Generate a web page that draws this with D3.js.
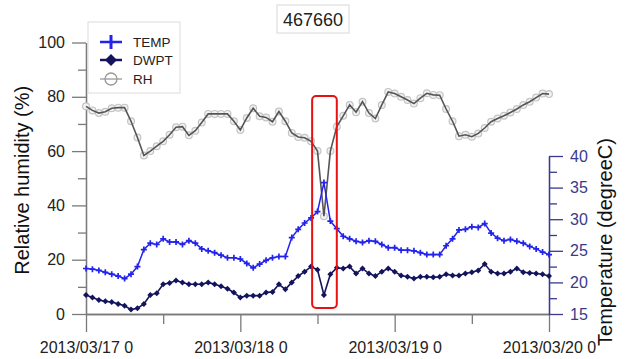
<!DOCTYPE html>
<html>
<head>
<meta charset="utf-8">
<script src="https://cdn.jsdelivr.net/npm/d3@7"></script>
<style>
  html, body { margin: 0; padding: 0; background: #fff; }
  svg { display: block; font-family: "Liberation Sans", Arial, sans-serif; }
</style>
</head>
<body>
<svg id="chart" width="627" height="359"></svg>
<script>
// Station 467660, hourly observations from 2013/03/17 00:00 to 2013/03/20 00:00
const stationId = "467660";
const startTime = new Date(2013, 2, 17, 0, 0, 0);

// Relative humidity (%) per hour
const rhValues = [
  76.5, 75, 74, 74.5, 75.8, 76, 76, 71, 65, 58.4,
  60, 61.8, 63.6, 66, 68.8, 69, 65.8, 67.5, 70.5, 73.7,
  73.7, 73.7, 73.7, 71, 67.8, 72.2, 75.8, 72.8, 72.4, 70.8,
  74.6, 71, 66.7, 65.2, 64.9, 63.6, 60, 36, 60, 69,
  73, 77, 74.3, 78.2, 74, 72, 77, 81.8, 81.2, 80,
  78.8, 77.5, 79.5, 81.3, 80.7, 80.6, 75.5, 71, 65.5, 66,
  65.3, 66.5, 68.5, 70.8, 72, 73, 74.2, 75.5, 77, 78.2,
  79.7, 81.2, 81
];

// Air temperature (degreeC) per hour
const tempValues = [
  22.2, 22.1, 21.9, 21.6, 21.3, 21, 20.6, 21.3, 22.5, 25.2,
  26.2, 26, 26.9, 26.4, 26.4, 26, 26.6, 26.2, 25.3, 25,
  24.7, 24.3, 23.9, 23.9, 23.7, 23, 22.3, 22.9, 23.5, 23.9,
  24.1, 24.1, 27.1, 28.4, 29.4, 30.2, 31.2, 35.8, 29.7, 28.5,
  27.3, 26.9, 26.5, 26.3, 26.6, 26.5, 26, 25.5, 25.5, 25.1,
  25.1, 25, 24.7, 24.4, 24.4, 24.4, 25.8, 26.9, 28.3, 28.4,
  28.8, 28.7, 29.3, 27.8, 27, 26.6, 26.8, 26.5, 26.2, 25.7,
  25.3, 24.8, 24.4
];

// Dew point (degreeC) per hour
const dwptValues = [
  18, 17.6, 17.2, 17, 16.9, 16.6, 16.3, 15.7, 15.9, 16.6,
  18, 18.3, 19.7, 19.9, 20.3, 20, 19.7, 19.7, 19.7, 20,
  19.7, 19.4, 19, 18.4, 17.6, 17.9, 17.9, 17.9, 18.4, 18.5,
  19.7, 18.9, 20, 21, 21.7, 22.5, 22, 18, 21.3, 22.3,
  22.2, 22.5, 21.4, 22.2, 21.4, 21, 21.7, 22.2, 21.7, 21.1,
  20.9, 20.6, 20.9, 20.9, 20.8, 20.9, 21.3, 21.1, 21.1, 21.4,
  21.6, 21.9, 22.9, 21.7, 21.4, 21.4, 21.7, 22.2, 21.6, 21.5,
  21.4, 21.3, 21.0
];

// Axis ticks and labels
const rhMajorTicks = [0, 20, 40, 60, 80, 100];
const rhMinorTicks = [10, 30, 50, 70, 90];
const tempMajorTicks = [15, 20, 25, 30, 35, 40];
const tempMinorTicks = [17.5, 22.5, 27.5, 32.5, 37.5];
const seriesNames = ["TEMP", "DWPT", "RH"];
const rhTitle = "Relative humidity (%)";
const tempTitle = "Temperature (degreeC)";

// Highlighted period (the sharp temperature spike)
const highlightStart = new Date(2013, 2, 18, 11, 10);
const highlightEnd = new Date(2013, 2, 18, 15, 0);

const svg = d3.select("#chart");

const plot = { left: 86, right: 549, top: 42.5, bottom: 314 };

const times = rhValues.map((_, i) => d3.timeHour.offset(startTime, i));

const x = d3.scaleTime()
  .domain([startTime, d3.timeHour.offset(startTime, 72)])
  .range([plot.left, plot.right]);

const yRH = d3.scaleLinear().domain([0, 100]).range([plot.bottom, plot.top]);
const yT = d3.scaleLinear().domain([15, 40]).range([plot.bottom, 156]);

const axisGray = "#7a7a7a";
const tempAxisColor = "#3a3a8c";

function styleAxis(g, color, textColor) {
  g.select(".domain").attr("stroke", color).attr("stroke-width", 1.3);
  g.selectAll(".tick line").attr("stroke", color).attr("stroke-width", 1.3);
  g.selectAll(".tick text")
    .attr("fill", textColor)
    .style("font-size", "16px")
    .style("font-family", "'Liberation Sans', Arial, sans-serif");
}

// Bottom time axis
const xMajor = svg.append("g")
  .attr("transform", `translate(0,${plot.bottom})`)
  .call(d3.axisBottom(x)
    .ticks(d3.timeDay.every(1))
    .tickSize(18)
    .tickSizeOuter(0)
    .tickPadding(10)
    .tickFormat(d3.timeFormat("%Y/%m/%d %-H")));
styleAxis(xMajor, axisGray, "#222");

const xMinor = svg.append("g")
  .attr("transform", `translate(0,${plot.bottom})`)
  .call(d3.axisBottom(x)
    .tickValues(d3.timeHour.every(12).range(startTime, d3.timeHour.offset(startTime, 72))
      .filter(d => d.getHours() === 12))
    .tickSize(10)
    .tickSizeOuter(0)
    .tickFormat(""));
styleAxis(xMinor, axisGray, "#222");

// Left humidity axis
const yMajor = svg.append("g")
  .attr("transform", `translate(${plot.left},0)`)
  .call(d3.axisLeft(yRH).tickValues(rhMajorTicks).tickSize(14).tickSizeOuter(0).tickPadding(7));
styleAxis(yMajor, axisGray, "#222");

const yMinor = svg.append("g")
  .attr("transform", `translate(${plot.left},0)`)
  .call(d3.axisLeft(yRH).tickValues(rhMinorTicks).tickSize(8).tickSizeOuter(0).tickFormat(""));
styleAxis(yMinor, axisGray, "#222");

// Right temperature axis
const tMajor = svg.append("g")
  .attr("transform", `translate(${plot.right},0)`)
  .call(d3.axisRight(yT).tickValues(tempMajorTicks).tickSize(14).tickSizeOuter(0).tickPadding(7));
styleAxis(tMajor, tempAxisColor, tempAxisColor);

const tMinor = svg.append("g")
  .attr("transform", `translate(${plot.right},0)`)
  .call(d3.axisRight(yT).tickValues(tempMinorTicks).tickSize(8).tickSizeOuter(0).tickFormat(""));
styleAxis(tMinor, tempAxisColor, tempAxisColor);

// Axis titles
svg.append("text")
  .attr("transform", `translate(29,${(plot.top + plot.bottom) / 2 + 2}) rotate(-90)`)
  .attr("text-anchor", "middle")
  .attr("fill", "#111")
  .style("font-size", "20px")
  .text(rhTitle);

svg.append("text")
  .attr("transform", `translate(612,242) rotate(-90)`)
  .attr("text-anchor", "middle")
  .attr("fill", "#111")
  .style("font-size", "20px")
  .text(tempTitle);

// Station title with frame
const titleG = svg.append("g");
titleG.append("rect")
  .attr("x", 277).attr("y", 5).attr("width", 72).attr("height", 28)
  .attr("fill", "#fff").attr("stroke", "#d8d8d8").attr("stroke-width", 1);
titleG.append("text")
  .attr("x", 313).attr("y", 26)
  .attr("text-anchor", "middle")
  .attr("fill", "#222")
  .style("font-size", "18px")
  .text(stationId);

// Relative humidity series
const rhColor = "#555";
svg.append("g").selectAll("circle")
  .data(rhValues)
  .join("circle")
  .attr("cx", (d, i) => x(times[i]))
  .attr("cy", d => yRH(d))
  .attr("r", 3.4)
  .attr("fill", "#f2f2f2")
  .attr("stroke", "#c4c4c4")
  .attr("stroke-width", 1.2);

svg.append("path")
  .datum(rhValues)
  .attr("fill", "none")
  .attr("stroke", rhColor)
  .attr("stroke-width", 1.6)
  .attr("d", d3.line().x((d, i) => x(times[i])).y(d => yRH(d)));

// Temperature series
const tempColor = "#2323ee";
svg.append("path")
  .datum(tempValues)
  .attr("fill", "none")
  .attr("stroke", tempColor)
  .attr("stroke-width", 1.5)
  .attr("d", d3.line().x((d, i) => x(times[i])).y(d => yT(d)));

svg.append("g").selectAll("path")
  .data(tempValues)
  .join("path")
  .attr("transform", (d, i) => `translate(${x(times[i])},${yT(d)})`)
  .attr("d", "M-3,0H3M0,-3V3")
  .attr("stroke", tempColor)
  .attr("stroke-width", 1.7);

// Dew point series
const dwptColor = "#14145e";
svg.append("path")
  .datum(dwptValues)
  .attr("fill", "none")
  .attr("stroke", dwptColor)
  .attr("stroke-width", 1.6)
  .attr("d", d3.line().x((d, i) => x(times[i])).y(d => yT(d)));

svg.append("g").selectAll("path")
  .data(dwptValues)
  .join("path")
  .attr("transform", (d, i) => `translate(${x(times[i])},${yT(d)})`)
  .attr("d", "M0,-3L3,0L0,3L-3,0Z")
  .attr("fill", dwptColor);

// Highlight frame around the spike
svg.append("rect")
  .attr("x", x(highlightStart))
  .attr("y", 96)
  .attr("width", x(highlightEnd) - x(highlightStart))
  .attr("height", 212)
  .attr("rx", 4)
  .attr("fill", "none")
  .attr("stroke", "#e81010")
  .attr("stroke-width", 2);

// Legend
const legend = svg.append("g");
legend.append("rect")
  .attr("x", 88).attr("y", 22).attr("width", 92).attr("height", 71)
  .attr("fill", "#fff").attr("stroke", "#dcdcdc").attr("stroke-width", 1);

const legendRows = [
  { name: seriesNames[0], y: 42, color: tempColor },
  { name: seriesNames[1], y: 60, color: dwptColor },
  { name: seriesNames[2], y: 79, color: "#999" }
];
legendRows.forEach(r => {
  legend.append("line")
    .attr("x1", 100).attr("x2", 122).attr("y1", r.y).attr("y2", r.y)
    .attr("stroke", r.color).attr("stroke-width", r.name === "RH" ? 1.3 : 2.5);
  legend.append("text")
    .attr("x", 133).attr("y", r.y + 5)
    .attr("fill", "#222")
    .style("font-size", "13.5px")
    .text(r.name);
});
legend.append("path")
  .attr("d", "M111,35V49")
  .attr("stroke", tempColor).attr("stroke-width", 3);
legend.append("path")
  .attr("d", "M111,54L117,60L111,66L105,60Z")
  .attr("fill", dwptColor);
legend.append("circle")
  .attr("cx", 111).attr("cy", 79).attr("r", 6)
  .attr("fill", "#fff").attr("stroke", "#999").attr("stroke-width", 1.3);
legend.append("line")
  .attr("x1", 105).attr("x2", 117).attr("y1", 79).attr("y2", 79)
  .attr("stroke", "#999").attr("stroke-width", 1.3);
</script>
</body>
</html>
